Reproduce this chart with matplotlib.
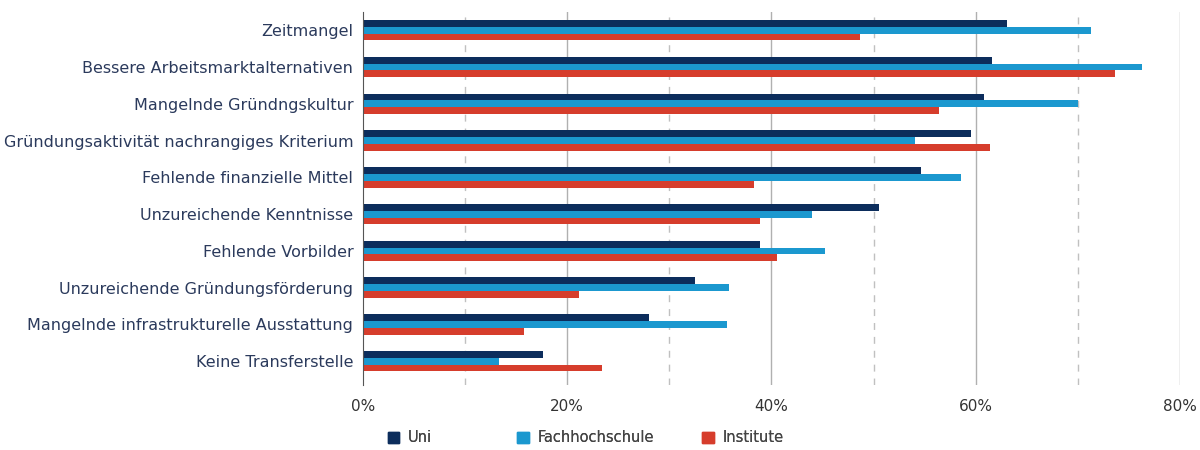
import numpy as np
from matplotlib import pyplot as plt
from matplotlib.patches import Patch

plt.rcParams['font.family'] = ['DejaVu Sans']

categories = ['Zeitmangel', 'Bessere Arbeitsmarktalternativen', 'Mangelnde Gründngskultur',
              'Gründungsaktivität nachrangiges Kriterium', 'Fehlende finanzielle Mittel',
              'Unzureichende Kenntnisse', 'Fehlende Vorbilder', 'Unzureichende Gründungsförderung',
              'Mangelnde infrastrukturelle Ausstattung', 'Keine Transferstelle']
uni = [63.1, 61.6, 60.8, 59.5, 54.6, 50.5, 38.9, 32.5, 28.0, 17.6]
fachhochschule = [71.3, 76.3, 70.0, 54.1, 58.6, 44.0, 45.2, 35.8, 35.6, 13.3]
institute = [48.7, 73.6, 56.4, 61.4, 38.3, 38.9, 40.5, 21.2, 15.8, 23.4]
series_names = ['Uni', 'Fachhochschule', 'Institute']

c_uni = '#0c2d5c'
c_fh = '#1b98cf'
c_inst = '#d63d2c'

y = np.arange(len(categories))
h = 0.185

fig = plt.figure(figsize=(12, 4.5), dpi=100)
ax = fig.add_axes([0.3025, 0.144, 0.6808, 0.829])

ax.barh(y, fachhochschule, height=h, color=c_fh, zorder=3)
ax.barh(y - h, uni, height=h, color=c_uni, zorder=3)
ax.barh(y + h, institute, height=h, color=c_inst, zorder=3)

ax.set_xlim(0, 80)
ax.set_ylim(9.65, -0.49)
ax.set_yticks(y)
ax.set_yticklabels(categories, fontsize=11.5, color='#2b3a5c')
ax.set_xticks([0, 20, 40, 60, 80])
ax.set_xticklabels(['0%', '20%', '40%', '60%', '80%'], fontsize=11, color='#333333')
ax.tick_params(axis='both', length=0)
ax.tick_params(axis='x', pad=10)
ax.tick_params(axis='y', pad=7)

for v in [20, 40, 60, 80]:
    ax.axvline(v, color='#b0b0b0', lw=1, zorder=1)
for v in [10, 30, 50, 70]:
    ax.axvline(v, color='#c0c0c0', lw=1, ls=(0, (5, 5)), zorder=1)

for s in ['top', 'right', 'bottom']:
    ax.spines[s].set_visible(False)
ax.spines['left'].set_color('#555555')
ax.spines['left'].set_zorder(4)

# legend items placed one by one like the original
for name, col, xpos in zip(series_names, [c_uni, c_fh, c_inst], [0.323, 0.431, 0.585]):
    leg = fig.legend(handles=[Patch(color=col, label=name)], loc='center left',
                     bbox_to_anchor=(xpos, 0.027), frameon=False, fontsize=10.5,
                     handlelength=0.8, handleheight=0.8, handletextpad=0.6,
                     labelcolor='#444444', borderaxespad=0, borderpad=0)
    fig.add_artist(leg)

plt.savefig('out.png', dpi=100)
